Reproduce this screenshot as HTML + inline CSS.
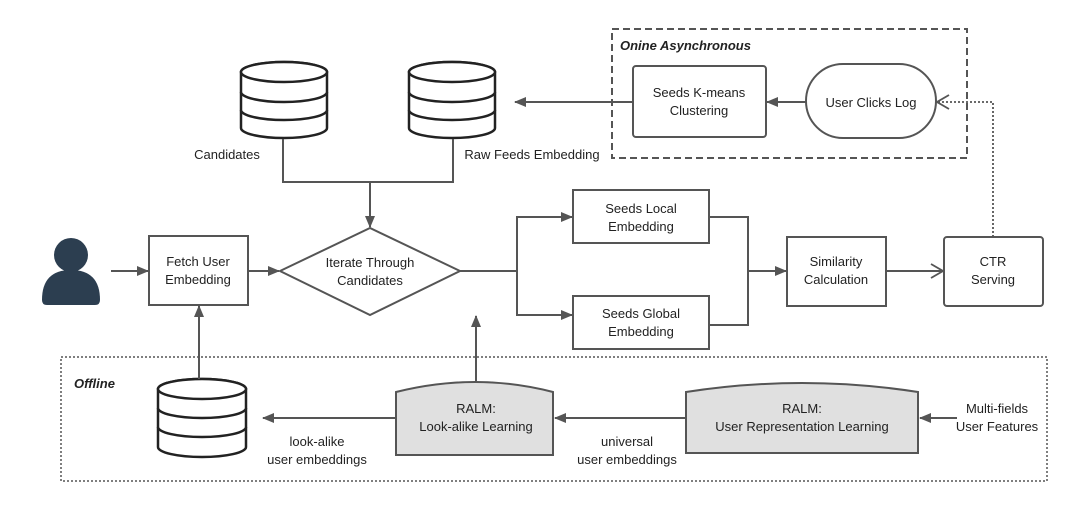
<!DOCTYPE html>
<html><head><meta charset="utf-8"><style>
html,body{margin:0;padding:0;background:#fff;width:1080px;height:513px;overflow:hidden}
svg{display:block}
text{font-family:"Liberation Sans",Arial,sans-serif;font-size:13px;fill:#222}
</style></head><body>
<svg width="1080" height="513" viewBox="0 0 1080 513">
<defs>
<marker id="a" markerWidth="12" markerHeight="10" refX="11" refY="5" orient="auto" markerUnits="userSpaceOnUse"><path d="M0,0 L12,5 L0,10 Z" fill="#555"/></marker>
<marker id="o" markerWidth="14" markerHeight="16" refX="13" refY="8" orient="auto" markerUnits="userSpaceOnUse"><path d="M1,1 L13,8 L1,15" fill="none" stroke="#555" stroke-width="1.8"/></marker>
</defs>
<g stroke="#555" stroke-width="2" fill="none">
<rect x="612" y="29" width="355" height="129" stroke-dasharray="7,4"/>
<rect x="61" y="357" width="986" height="124" stroke-width="1.5" stroke-dasharray="2,2"/>
<g stroke="#222" stroke-width="2.5" fill="#fff">
<path d="M241,72 A43,10 0 0 1 327,72 V128 A43,10 0 0 1 241,128 Z"/><ellipse cx="284" cy="72" rx="43" ry="10"/><path d="M241,92 A43,10 0 0 0 327,92 M241,110 A43,10 0 0 0 327,110"/>
<path d="M409,72 A43,10 0 0 1 495,72 V128 A43,10 0 0 1 409,128 Z"/><ellipse cx="452" cy="72" rx="43" ry="10"/><path d="M409,92 A43,10 0 0 0 495,92 M409,110 A43,10 0 0 0 495,110"/>
<path d="M158,389 A44,10 0 0 1 246,389 V447 A44,10 0 0 1 158,447 Z"/><ellipse cx="202" cy="389" rx="44" ry="10"/><path d="M158,408 A44,10 0 0 0 246,408 M158,427 A44,10 0 0 0 246,427"/>
</g>
<rect x="149" y="236" width="99" height="69" fill="#fff"/>
<polygon points="280,271 370,228 460,271 370,315" fill="#fff"/>
<rect x="573" y="190" width="136" height="53" fill="#fff"/>
<rect x="573" y="296" width="136" height="53" fill="#fff"/>
<rect x="787" y="237" width="99" height="69" fill="#fff"/>
<rect x="944" y="237" width="99" height="69" rx="3" fill="#fff"/>
<rect x="633" y="66" width="133" height="71" rx="3" fill="#fff"/>
<rect x="806" y="64" width="130" height="74" rx="37" fill="#fff"/>
<path d="M396,392 Q476,372 553,392 V455 H396 Z" fill="#e0e0e0"/>
<path d="M686,392 Q802,374 918,392 V453 H686 Z" fill="#e0e0e0"/>
<path d="M283,139 V182 H453 V139 M370,182 V227" marker-end="url(#a)"/>
<path d="M111,271 H148" marker-end="url(#a)"/>
<path d="M248,271 H279" marker-end="url(#a)"/>
<path d="M460,271 H517 V217 H572" marker-end="url(#a)"/>
<path d="M517,271 V315 H572" marker-end="url(#a)"/>
<path d="M709,217 H748 V325 H709"/>
<path d="M748,271 H786" marker-end="url(#a)"/>
<path d="M886,271 H943" marker-end="url(#o)"/>
<path d="M806,102 H767" marker-end="url(#a)"/>
<path d="M633,102 H515" marker-end="url(#a)"/>
<path d="M993,237 V102 H937" stroke-width="1.8" stroke-dasharray="2,2" marker-end="url(#o)"/>
<path d="M199,379 V306" marker-end="url(#a)"/>
<path d="M476,381 V316" marker-end="url(#a)"/>
<path d="M396,418 H263" marker-end="url(#a)"/>
<path d="M686,418 H555" marker-end="url(#a)"/>
<path d="M957,418 H920" marker-end="url(#a)"/>
</g>
<g fill="#2c3e50"><circle cx="71" cy="255" r="17"/><path d="M42,300 Q42,270 71,270 Q100,270 100,300 Q100,305 95,305 H47 Q42,305 42,300 Z"/></g>
<g text-anchor="middle">
<text x="227" y="159">Candidates</text>
<text x="532" y="159">Raw Feeds Embedding</text>
<text x="198" y="266">Fetch User</text><text x="198" y="284">Embedding</text>
<text x="370" y="267">Iterate Through</text><text x="370" y="285">Candidates</text>
<text x="641" y="213">Seeds Local</text><text x="641" y="231">Embedding</text>
<text x="641" y="318">Seeds Global</text><text x="641" y="336">Embedding</text>
<text x="836" y="266">Similarity</text><text x="836" y="284">Calculation</text>
<text x="993" y="266">CTR</text><text x="993" y="284">Serving</text>
<text x="699" y="97">Seeds K-means</text><text x="699" y="115">Clustering</text>
<text x="871" y="107">User Clicks Log</text>
<text x="476" y="413">RALM:</text><text x="476" y="431">Look-alike Learning</text>
<text x="802" y="413">RALM:</text><text x="802" y="431">User Representation Learning</text>
<text x="997" y="413">Multi-fields</text><text x="997" y="431">User Features</text>
<text x="317" y="446">look-alike</text><text x="317" y="464">user embeddings</text>
<text x="627" y="446">universal</text><text x="627" y="464">user embeddings</text>
</g>
<text x="620" y="50" style="font-weight:bold;font-style:italic">Onine Asynchronous</text>
<text x="74" y="388" style="font-weight:bold;font-style:italic">Offline</text>
</svg>
</body></html>
